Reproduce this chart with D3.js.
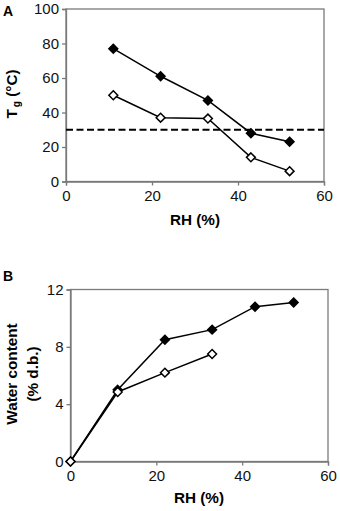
<!DOCTYPE html>
<html><head><meta charset="utf-8">
<script src="https://cdn.jsdelivr.net/npm/d3@7"></script>
<style>body{margin:0;background:#fff}svg{display:block}</style>
</head><body>
<script>
// Panel A data: glass transition temperature vs RH
const rhA = [11, 22, 33, 43, 52];
const tgFilled = [77, 61, 47, 28, 23];
const tgOpen = [50, 37, 36.5, 14, 6];
const tgRef = 30;
const xTicksA = [0, 20, 40, 60];
const yTicksA = [0, 20, 40, 60, 80, 100];
// Panel B data: water content vs RH
const rhBFilled = [0, 11, 22, 33, 43, 52];
const wcFilled = [0, 5, 8.5, 9.2, 10.8, 11.1];
const rhBOpen = [0, 11, 22, 33];
const wcOpen = [0, 4.85, 6.2, 7.5];
const xTicksB = [0, 20, 40, 60];
const yTicksB = [0, 4, 8, 12];

const W = 340, H = 511;
const svg = d3.select("body").append("svg").attr("width", W).attr("height", H);
const font = "Liberation Sans, Arial, sans-serif";
const frameCol = "#7a7a7a";

function panel(o) {
  const x = d3.scaleLinear().domain([0, 60]).range([o.x0, o.x1]);
  const y = d3.scaleLinear().domain(o.ydom).range([o.y1, o.y0]);
  const g = svg.append("g");
  g.append("rect").attr("x", o.x0).attr("y", o.y0).attr("width", o.x1 - o.x0).attr("height", o.y1 - o.y0)
    .attr("fill", "none").attr("stroke", frameCol).attr("stroke-width", 1.3);
  const ax = g.append("g").attr("transform", `translate(0,${o.y1})`)
    .call(d3.axisBottom(x).tickValues(o.xt).tickSize(4).tickPadding(3).tickFormat(d3.format("d")));
  const ay = g.append("g").attr("transform", `translate(${o.x0},0)`)
    .call(d3.axisLeft(y).tickValues(o.yt).tickSize(4).tickPadding(3).tickFormat(d3.format("d")));
  [ax, ay].forEach(a => {
    a.select(".domain").attr("stroke", frameCol).attr("stroke-width", 1.3);
    a.selectAll(".tick line").attr("stroke", frameCol).attr("stroke-width", 1.3);
    a.selectAll("text").attr("font-family", font).attr("font-size", 15).attr("fill", "#111");
  });
  ax.selectAll("text").attr("dy", "0.85em");
  if (o.ref !== undefined) {
    g.append("line").attr("x1", x(0)).attr("x2", x(60)).attr("y1", y(o.ref)).attr("y2", y(o.ref))
      .attr("stroke", "#000").attr("stroke-width", 1.8).attr("stroke-dasharray", "7,3.5");
  }
  const line = d3.line().x(d => x(d[0])).y(d => y(d[1]));
  const diamond = d3.symbol().type(d3.symbolDiamond2).size(50);
  o.series.forEach(s => {
    const pts = s.xs.map((v, i) => [v, s.ys[i]]);
    g.append("path").datum(pts).attr("d", line).attr("fill", "none").attr("stroke", "#000").attr("stroke-width", 1.5);
  });
  o.series.forEach(s => {
    const pts = s.xs.map((v, i) => [v, s.ys[i]]);
    g.selectAll(null).data(pts).enter().append("path")
      .attr("d", diamond).attr("transform", d => `translate(${x(d[0])},${y(d[1])})`)
      .attr("fill", s.fill).attr("stroke", "#000").attr("stroke-width", 1.5);
  });
  return {x, y};
}

panel({x0: 66, x1: 324, y0: 9, y1: 181.5, ydom: [0, 100], xt: xTicksA, yt: yTicksA, ref: tgRef,
  series: [{xs: rhA, ys: tgOpen, fill: "#fff"}, {xs: rhA, ys: tgFilled, fill: "#000"}]});
panel({x0: 70.5, x1: 328, y0: 289.5, y1: 461.5, ydom: [0, 12], xt: xTicksB, yt: yTicksB,
  series: [{xs: rhBFilled, ys: wcFilled, fill: "#000"}, {xs: rhBOpen, ys: wcOpen, fill: "#fff"}]});

svg.append("text").attr("x", 3).attr("y", 16).text("A")
  .attr("font-family", font).attr("font-weight", "bold").attr("font-size", 14);
svg.append("text").attr("x", 3).attr("y", 281).text("B")
  .attr("font-family", font).attr("font-weight", "bold").attr("font-size", 14);

[[195, 225], [199, 503]].forEach(([cx, by]) => {
  svg.append("text").attr("x", cx).attr("y", by).attr("text-anchor", "middle").text("RH (%)")
    .attr("font-family", font).attr("font-weight", "bold").attr("font-size", 15.3);
});

const tA = svg.append("text").attr("transform", "translate(17,94) rotate(-90)").attr("text-anchor", "middle")
  .attr("font-family", font).attr("font-weight", "bold").attr("font-size", 15.3);
tA.append("tspan").text("T");
tA.append("tspan").text("g").attr("font-size", 10).attr("dy", 3).attr("dx", 2);
tA.append("tspan").text(" (°C)").attr("dy", -3);

const tB = svg.append("text").attr("transform", "translate(0,374) rotate(-90)").attr("text-anchor", "middle")
  .attr("font-family", font).attr("font-weight", "bold").attr("font-size", 15.3);
tB.append("tspan").attr("x", 0).attr("y", 17).text("Water content");
tB.append("tspan").attr("x", 0).attr("y", 38).text("(% d.b.)");
</script>
</body></html>
